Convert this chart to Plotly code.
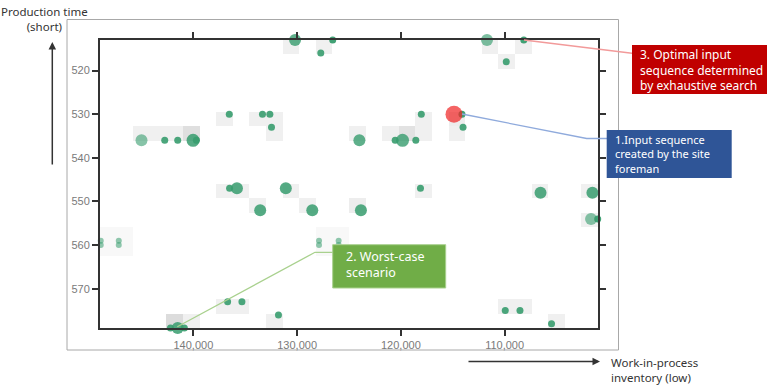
import plotly.graph_objects as go

# ---------------- data ----------------
# green points: work-in-process inventory (x) vs production time (y)
pt_x = [130200, 126570, 127720, 145000, 142760, 141510, 140030, 139710,
        136540, 133340, 132630, 132470, 111700, 108150, 109840, 114110,
        114010, 118030, 124000, 120550, 119840, 118560, 136510, 135800,
        133560, 131090, 128540, 148930, 148930, 147190, 147190, 127890,
        127890, 126000, 126000, 142210, 141510, 140870, 136700, 135320,
        131800, 118110, 123850, 106540, 101540, 101670, 101030, 109940,
        108520, 105480]
pt_y = [513, 513, 516, 536, 536, 536, 536, 536,
        530, 530, 530, 533, 513, 513, 518, 530,
        533, 530, 536, 536, 536, 536, 547, 547,
        552, 547, 552, 559, 560, 559, 560, 559,
        560, 559, 560, 579, 579, 579, 573, 573,
        576, 547, 552, 548, 548, 554, 554, 575,
        575, 578]
pt_size = [12, 7, 7, 12, 7, 7, 13, 7,
           7, 7, 7, 7, 12, 7, 7, 7,
           7, 7, 12, 7, 13, 7, 7, 12,
           12, 12, 12, 6, 6, 6, 6, 6,
           6, 6, 6, 7, 12, 7, 7, 7,
           7, 7, 12, 12, 12, 12, 7, 7,
           7, 7]
pt_alpha = [0.8, 0.95, 0.9, 0.6, 0.9, 0.9, 0.85, 0.9,
            0.9, 0.9, 0.9, 0.9, 0.65, 0.95, 0.9, 0.95,
            0.9, 0.9, 0.8, 0.9, 0.8, 0.9, 0.9, 0.85,
            0.85, 0.85, 0.85, 0.55, 0.55, 0.55, 0.55, 0.55,
            0.55, 0.55, 0.55, 0.9, 0.85, 0.9, 0.9, 0.9,
            0.9, 0.9, 0.85, 0.85, 0.85, 0.6, 0.95, 0.9,
            0.9, 0.9]

# foreman's sequence (red point)
foreman_x = [114880]
foreman_y = [530]

# grey background grid cells (column, row, shade)
cell_col = [11, 13, 23, 25, 24, 2, 3, 4, 5, 7, 9, 10, 10, 19, 19, 21, 21,
            15, 17, 18, 7, 8, 11, 9, 12, 19, 15, 26, 29, 29,
            0, 1, 0, 1, 13, 13, 14, 14, 4, 5, 7, 8, 10, 24, 25, 27]
cell_row = [0, 0, 0, 0, 1, 6, 6, 6, 6, 5, 5, 5, 6, 5, 6, 5, 6,
            6, 6, 6, 10, 10, 10, 11, 11, 10, 11, 10, 10, 12,
            13, 13, 14, 14, 13, 14, 13, 14, 19, 19, 18, 18, 19, 18, 18, 19]
cell_shade = [0.25, 0.25, 0.25, 0.25, 0.25, 0.25, 0.25, 0.25, 0.55, 0.25, 0.25, 0.25, 0.25, 0.25, 0.25, 0.3, 0.25,
              0.25, 0.25, 0.5, 0.25, 0.25, 0.25, 0.25, 0.25, 0.25, 0.3, 0.25, 0.25, 0.25,
              0.12, 0.12, 0.12, 0.12, 0.12, 0.12, 0.12, 0.12, 0.6, 0.25, 0.25, 0.25, 0.25, 0.25, 0.25, 0.25]

grid_cols, grid_rows = 30, 20
x_min, x_max = 101000, 149000
y_min, y_max = 513, 579
x_ticks = [140000, 130000, 120000, 110000]
x_ticklabels = ["140,000", "130,000", "120,000", "110,000"]
y_ticks = [520, 530, 540, 550, 560, 570]

# ---------------- figure ----------------
W, H = 768, 391
L, R, T, B = 100, 170, 40, 63
PW, PH = W - L - R, H - T - B


def pxx(x):
    return (x - L) / PW


def pxy(y):
    return (H - B - y) / PH


dx = (x_max - x_min) / grid_cols
dy = (y_max - y_min) / grid_rows
z = [[None] * grid_cols for _ in range(grid_rows)]
for c, r, s in zip(cell_col, cell_row, cell_shade):
    z[r][c] = s

fig = go.Figure()
fig.add_trace(go.Heatmap(
    z=z, x0=x_max - dx / 2, dx=-dx, y0=y_min + dy / 2, dy=dy,
    colorscale=[[0, "#ffffff"], [1, "#c4c4c4"]], zmin=0, zmax=1,
    showscale=False, hoverinfo="skip"))

fig.add_trace(go.Scatter(
    x=pt_x, y=pt_y, mode="markers", cliponaxis=False,
    marker=dict(size=pt_size, color="#379c6e", opacity=pt_alpha, line=dict(width=0)),
    showlegend=False))
fig.add_trace(go.Scatter(
    x=foreman_x, y=foreman_y, mode="markers", cliponaxis=False,
    marker=dict(size=17, color="rgba(240,40,40,0.72)", line=dict(width=0)),
    showlegend=False))

axis_common = dict(showgrid=False, zeroline=False, showline=True, linecolor="#333333",
                   linewidth=2, mirror="ticks", ticks="outside", ticklen=6,
                   tickwidth=1.5, tickcolor="#333333",
                   tickfont=dict(family="Liberation Sans, Arial", size=11, color="#7a7a7a"))
fig.update_xaxes(range=[x_max, x_min], tickvals=x_ticks, ticktext=x_ticklabels, **axis_common)
fig.update_yaxes(range=[y_max, y_min], tickvals=y_ticks, **axis_common)


def rect(x0, y0, x1, y1, fill, line_color=None, layer="above"):
    return dict(type="rect", xref="paper", yref="paper", x0=pxx(x0), x1=pxx(x1),
                y0=pxy(y1), y1=pxy(y0), fillcolor=fill, layer=layer,
                line=dict(color=line_color or fill, width=1 if line_color else 0))


shapes = []
# outer frame
shapes.append(dict(type="rect", xref="paper", yref="paper", x0=pxx(67), x1=pxx(618.5),
                   y0=pxy(19.5), y1=pxy(350), line=dict(color="#a8a8a8", width=1), layer="below"))
# leader lines
shapes.append(dict(type="path", xref="paper", yref="paper",
                   path=f"M{pxx(524)},{pxy(40)} L{pxx(634)},{pxy(53.5)}",
                   line=dict(color="#f29a9a", width=1.3)))
shapes.append(dict(type="path", xref="paper", yref="paper",
                   path=f"M{pxx(462)},{pxy(114)} L{pxx(586.7)},{pxy(138.5)} L{pxx(608)},{pxy(138.5)}",
                   line=dict(color="#8faadc", width=1.3)))
shapes.append(dict(type="path", xref="paper", yref="paper",
                   path=f"M{pxx(177.3)},{pxy(326.7)} L{pxx(315)},{pxy(252.3)} L{pxx(334)},{pxy(252.3)}",
                   line=dict(color="#a9d18e", width=1.3)))
# callout boxes
shapes.append(rect(632, 45, 767, 94, "#c00000"))
shapes.append(rect(606.7, 130, 731.7, 178, "#2f5597"))
shapes.append(rect(332.7, 244.7, 445.7, 288, "#70ad47", "#a9d18e"))

font_txt = "Noto Sans, Open Sans, sans-serif"
ann = []
ann.append(dict(xref="paper", yref="paper", x=pxx(638), y=pxy(69.6), xanchor="left", yanchor="middle",
                text="3. Optimal input<br>sequence determined<br>by exhaustive search",
                showarrow=False, align="left", font=dict(family=font_txt, size=12, color="white")))
ann.append(dict(xref="paper", yref="paper", x=pxx(612.5), y=pxy(154), xanchor="left", yanchor="middle",
                text="1.Input sequence<br>created by the site<br>foreman",
                showarrow=False, align="left", font=dict(family=font_txt, size=11, color="white")))
ann.append(dict(xref="paper", yref="paper", x=pxx(344), y=pxy(264.5), xanchor="left", yanchor="middle",
                text="2. Worst-case<br>scenario",
                showarrow=False, align="left", font=dict(family=font_txt, size=12.5, color="white")))
# axis direction arrows and labels
ann.append(dict(xref="paper", yref="paper", x=pxx(52.3), y=pxy(42), ax=0, ay=124, text="",
                showarrow=True, arrowhead=2, arrowsize=1, arrowwidth=1.5, arrowcolor="#333333"))
ann.append(dict(xref="paper", yref="paper", x=pxx(600), y=pxy(361.5), ax=-133, ay=0, text="",
                showarrow=True, arrowhead=2, arrowsize=1, arrowwidth=1.5, arrowcolor="#333333"))
ann.append(dict(xref="paper", yref="paper", x=pxx(44), y=pxy(19), xanchor="center", yanchor="middle",
                text="Production time<br>(short)", showarrow=False, align="center",
                font=dict(family=font_txt, size=11.5, color="#333333")))
ann.append(dict(xref="paper", yref="paper", x=pxx(609), y=pxy(369.5), xanchor="left", yanchor="middle",
                text="Work-in-process<br>inventory (low)", showarrow=False, align="left",
                font=dict(family=font_txt, size=11.5, color="#333333")))

fig.update_layout(width=W, height=H, autosize=False,
                  margin=dict(l=L, r=R, t=T, b=B, pad=0),
                  plot_bgcolor="white", paper_bgcolor="white",
                  shapes=shapes, annotations=ann, showlegend=False)

fig.write_html("out.html", config={"displayModeBar": False},
               post_script="document.body.style.margin='0';document.body.style.padding='0';")
